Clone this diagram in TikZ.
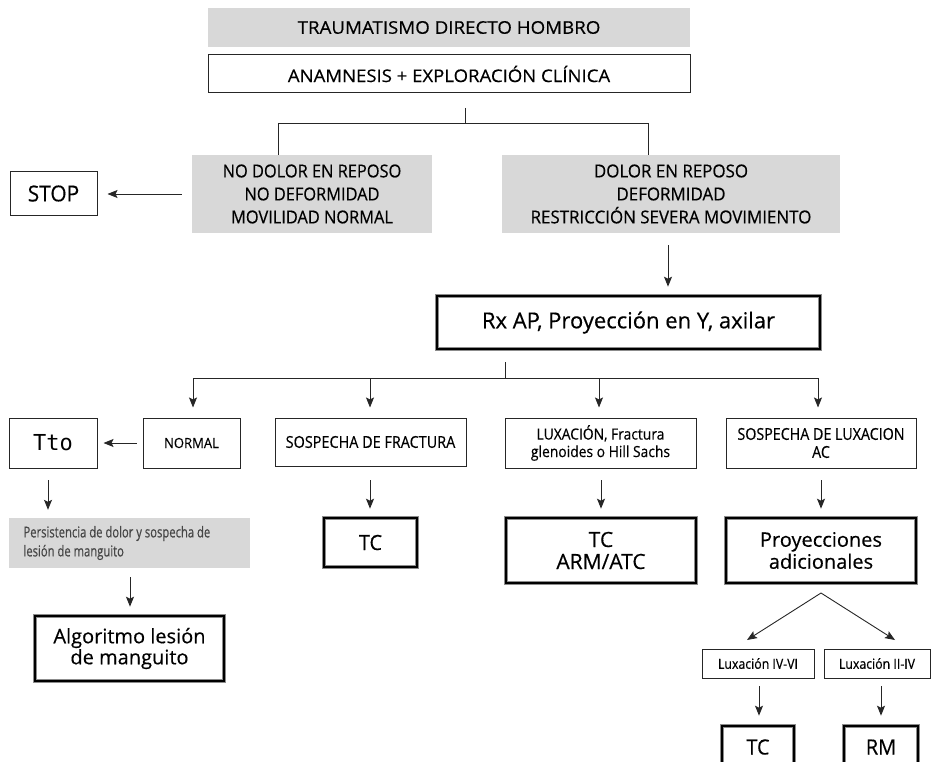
\documentclass[tikz,border=0pt]{standalone}
\usepackage{fontspec}
\setmainfont{Open Sans}
\newfontfamily\mono{DejaVu Sans Mono}
% Open Sans at a given horizontal stretch, size and line spacing
\newcommand\sfx[3]{\fontspec[FakeStretch=#1,FakeBold=0.4]{Open Sans}\fontsize{#2}{#3}\selectfont}
\usetikzlibrary{arrows.meta}
\definecolor{boxgray}{RGB}{216,216,216}
\definecolor{txtgray}{RGB}{70,70,70}

\tikzset{
  corners/.style n args={4}{at={({(#1+#3)/2},{(#2+#4)/2})},
    minimum width={(#3)-(#1)}, minimum height={(#4)-(#2)}},
  basebox/.style={rectangle, inner sep=0pt, align=center},
  box/.style={basebox, draw=black!85, line width=1pt},
  graybox/.style={basebox, fill=boxgray},
  heavy/.style={basebox, draw=black, line width=2.6pt,
    preaction={draw=black!45, line width=3.8pt}},
  link/.style={line width=0.9pt, draw=black!85},
  arr/.style={link, -{Stealth[length=10pt,width=8pt,inset=2pt]}},
}

\begin{document}
\begin{tikzpicture}[x=1pt, y=-1pt]
\useasboundingbox (0,0) rectangle (931,762);

% --- first level ---
\node[graybox, corners={208}{8}{690}{47}, font=\sfx{1.07}{17.5}{20}]
  (trauma) {TRAUMATISMO DIRECTO HOMBRO};
\node[box, corners={208}{55}{690}{93}, font=\sfx{1.06}{17.5}{20}]
  (anam) {ANAMNESIS + EXPLORACIÓN CLÍNICA};

\node[graybox, corners={192}{155}{432}{233}, font=\sfx{0.92}{17.8}{23}]
  (nodol) {NO DOLOR EN REPOSO\\NO DEFORMIDAD\\MOVILIDAD NORMAL};
\node[graybox, corners={502}{155}{840}{233}, font=\sfx{0.95}{17.8}{23}]
  (dol) {DOLOR EN REPOSO\\DEFORMIDAD\\RESTRICCIÓN SEVERA MOVIMIENTO};
\node[box, corners={10}{172}{97}{215}, font=\sfx{0.95}{22}{24}]
  (stop) {STOP};

\node[heavy, corners={437}{296}{820}{349}, font=\sfx{1}{22}{26}]
  (rx) {Rx AP, Proyección en Y, axilar};

% --- results of the radiograph ---
\node[box, corners={9}{418}{97}{468}, font=\mono\fontsize{22}{24}\selectfont]
  (tto) {Tto};
\node[box, corners={143}{418}{240}{468}, font=\sfx{0.93}{14}{16}]
  (normal) {NORMAL};
\node[box, corners={275}{418}{466}{466}, font=\sfx{0.88}{16.4}{18}]
  (fract) {SOSPECHA DE FRACTURA};
\node[box, corners={505}{418}{696}{468}, font=\sfx{0.9}{15.4}{17.5}]
  (luxa) {LUXACIÓN, Fractura\\glenoides o Hill Sachs};
\node[box, corners={726}{418}{916}{468}, font=\sfx{0.87}{16.4}{18}]
  (acsus) {SOSPECHA DE LUXACION\\AC};

% --- follow-up ---
\node[graybox, corners={9}{518}{250}{568}, align=left, text=txtgray,
  font=\sfx{0.75}{15}{19}]
  (persist) {\begin{minipage}{212pt}Persistencia de dolor y sospecha de\\lesión de manguito\end{minipage}};
\node[heavy, corners={35}{616}{224}{681}, font=\sfx{1}{20}{21}]
  (algo) {Algoritmo lesión\\de manguito};
\node[heavy, corners={324}{518}{417}{567}, font=\sfx{0.95}{21}{22}]
  (tc1) {TC};
\node[heavy, corners={506}{518}{696}{583}, font=\sfx{1}{21}{22}]
  (tcarm) {TC\\ARM/ATC};
\node[heavy, corners={726}{518}{916}{583}, font=\sfx{1}{20}{22}]
  (proy) {Proyecciones\\adicionales};

\node[box, corners={702}{649}{814}{678}, font=\sfx{0.88}{14}{16}]
  (lux46) {Luxación IV-VI};
\node[box, corners={824}{649}{930}{678}, font=\sfx{0.88}{14}{16}]
  (lux24) {Luxación II-IV};
\node[heavy, corners={722}{726}{794}{768}, font=\sfx{0.95}{21}{22}]
  (tc2) {TC};
\node[heavy, corners={844}{726}{918}{768}, font=\sfx{0.95}{21}{22}]
  (rm) {RM};

% --- junction points ---
\coordinate (a0) at (465,108);
\coordinate (a1) at (465,123);
\coordinate (aL) at (278,123);
\coordinate (aR) at (648,123);
\coordinate (b0) at (668,245);
\coordinate (c0) at (505,362);
\coordinate (c1) at (505,378);
\coordinate (cA) at (193,378);
\coordinate (cB) at (370,378);
\coordinate (cC) at (599,378);
\coordinate (cD) at (818,378);
\coordinate (d1) at (48,480);
\coordinate (d2) at (370,480);
\coordinate (d3) at (601,480);
\coordinate (d4) at (821,480);
\coordinate (e1) at (130,577);
\coordinate (apex) at (821,593);
\coordinate (fL) at (747,640);
\coordinate (fR) at (895,640);
\coordinate (g1) at (759,686);
\coordinate (g2) at (881,686);

% --- connectors ---
\draw[link] (a0) -- (a1);
\draw[link] (aL) -- (aR);
\draw[link] (aL) -- (aL |- nodol.north);
\draw[link] (aR) -- (aR |- dol.north);
\draw[arr] ([xshift=-10pt]nodol.west) -- ([xshift=10pt]stop.east |- nodol.west);
\draw[arr, shorten >=8pt] (b0) -- (b0 |- rx.north);

\draw[link] (c0) -- (c1);
\draw[link] (cA) -- (cD);
\draw[arr, shorten >=10pt] (cA) -- (cA |- normal.north);
\draw[arr, shorten >=10pt] (cB) -- (cB |- fract.north);
\draw[arr, shorten >=10pt] (cC) -- (cC |- luxa.north);
\draw[arr, shorten >=10pt] (cD) -- (cD |- acsus.north);
\draw[arr] ([xshift=-6pt]normal.west) -- ([xshift=6pt]tto.east |- normal.west);

\draw[arr, shorten >=8pt] (d1) -- (d1 |- persist.north);
\draw[arr, shorten >=8pt] (d2) -- (d2 |- tc1.north);
\draw[arr, shorten >=8pt] (d3) -- (d3 |- tcarm.north);
\draw[arr, shorten >=8pt] (d4) -- (d4 |- proy.north);
\draw[arr, shorten >=8pt] (e1) -- (e1 |- algo.north);

\draw[arr] (apex) -- (fL);
\draw[arr] (apex) -- (fR);
\draw[arr, shorten >=9pt] (g1) -- (g1 |- tc2.north);
\draw[arr, shorten >=9pt] (g2) -- (g2 |- rm.north);
\end{tikzpicture}
\end{document}
